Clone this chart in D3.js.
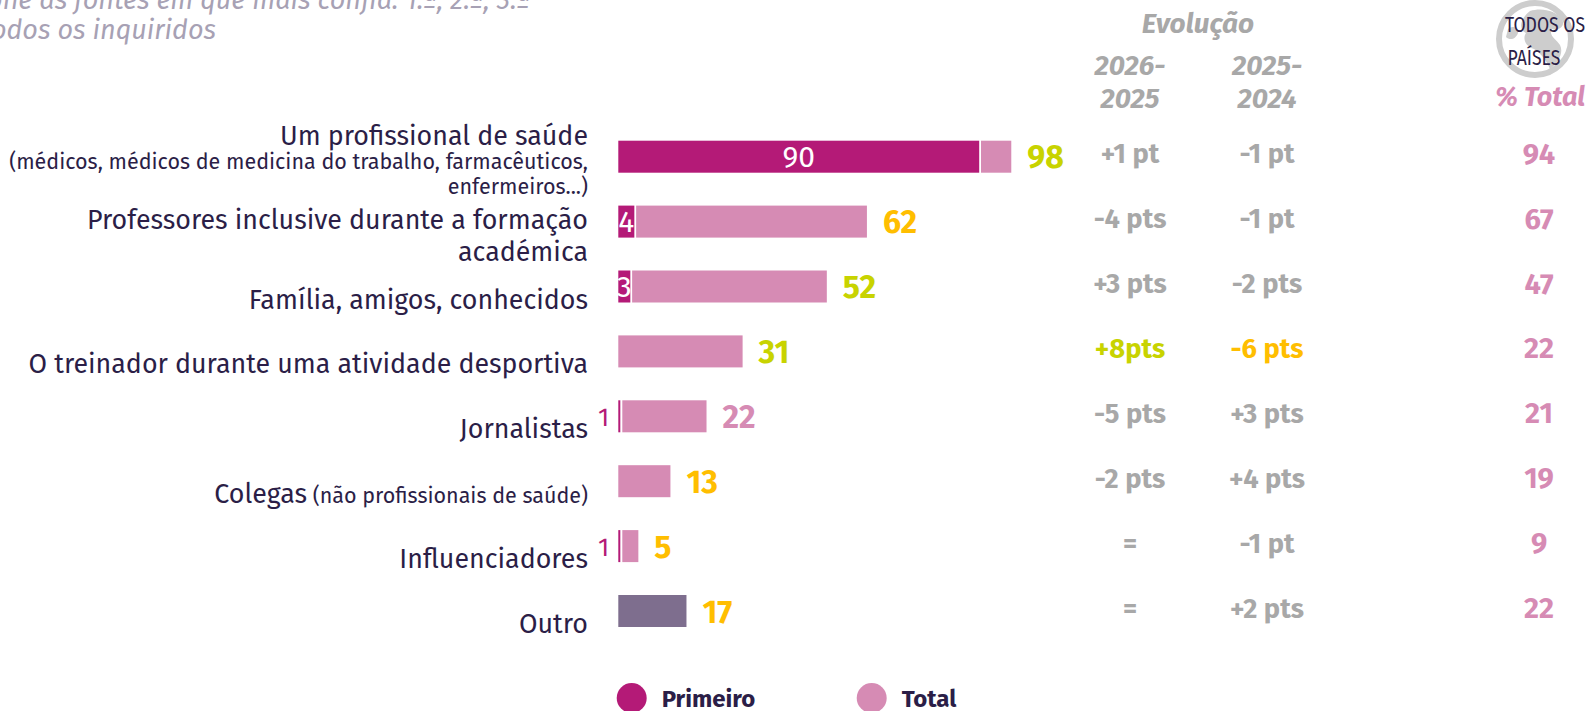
<!DOCTYPE html>
<html>
<head>
<meta charset="utf-8">
<script src="https://cdn.jsdelivr.net/npm/d3@7"></script>
<style>
  html, body { margin: 0; padding: 0; background: #fff; overflow: hidden; }
  svg { display: block; }
  text { font-family: "Fira Sans", "Open Sans", "Noto Sans", sans-serif; }
</style>
</head>
<body>
<svg id="chart" width="1591" height="711"></svg>
<script>
// ---------------- DATA ----------------
const titleLines = ["Selecione as fontes em que mais confia: 1.ª, 2.ª, 3.ª", "todos os inquiridos"];
const categories = [
  "Um profissional de saúde",
  "Professores inclusive durante a formação\nacadémica",
  "Família, amigos, conhecidos",
  "O treinador durante uma atividade desportiva",
  "Jornalistas",
  "Colegas",
  "Influenciadores",
  "Outro"
];
const categoryNotes = [
  "(médicos, médicos de medicina do trabalho, farmacêuticos,\nenfermeiros...)",
  "", "", "", "",
  "(não profissionais de saúde)",
  "", ""
];
const primeiro = [90, 4, 3, 0, 1, 0, 1, 0];
const total    = [98, 62, 52, 31, 22, 13, 5, 17];
const totalSignif = ["up", "down", "up", "up", "none", "down", "down", "down"];
const evolHeader = "Evolução";
const evolPeriods = ["2026-\n2025", "2025-\n2024"];
const evol2026 = ["+1 pt", "-4 pts", "+3 pts", "+8pts", "-5 pts", "-2 pts", "=", "="];
const evol2026Signif = ["none", "none", "none", "up", "none", "none", "none", "none"];
const evol2025 = ["-1 pt", "-1 pt", "-2 pts", "-6 pts", "+3 pts", "+4 pts", "-1 pt", "+2 pts"];
const evol2025Signif = ["none", "none", "none", "down", "none", "none", "none", "none"];
const allCountriesTitle = ["TODOS OS", "PAÍSES"];
const allCountriesHeader = "% Total";
const allCountries = [94, 67, 47, 22, 21, 19, 9, 22];
const legendItems = ["Primeiro", "Total"];
const otherCategory = "Outro";

// ---------------- STYLE ----------------
const C = {
  primeiro: "#B41A77",
  total: "#D68BB4",
  other: "#7E6E8E",
  up: "#C8D300",
  down: "#FFBE00",
  none: "#D68BB4",
  gray: "#A8A8A8",
  dark: "#2B1E47",
  title: "#A7A1B4",
  globe: "#CDCDCD"
};
const evolColor = s => s === "up" ? C.up : (s === "down" ? C.down : C.gray);
const FS = { main: 26.8, note: 21.5, value: 32, inside: 30, evol: 27.3, all: 29, head: 28 };

const svg = d3.select("#chart");

// scales
const x = d3.scaleLinear().domain([0, 100]).range([618.3, 1019.3]);
const y = d3.scaleBand().domain(d3.range(categories.length))
  .range([140.7 - 16.45, 140.7 - 16.45 + 64.9 * 8]).paddingInner(0.507).paddingOuter(0.2535);
const bh = 32;
const cy = i => y(i) + y.bandwidth() / 2;

// ---------------- TITLE ----------------
svg.append("text").attr("x", 530).attr("y", 9).attr("text-anchor", "end")
  .attr("font-size", 27).attr("font-style", "italic").attr("fill", C.title).text(titleLines[0]);
svg.append("text").attr("x", 216).attr("y", 39).attr("text-anchor", "end")
  .attr("font-size", 27).attr("font-style", "italic").attr("fill", C.title).text(titleLines[1]);

// ---------------- CATEGORY LABELS ----------------
const labelX = 588;
categories.forEach((cat, i) => {
  const c = cy(i);
  const mainLines = cat.split("\n");
  const note = categoryNotes[i];
  const g = svg.append("g");
  if (note && note.includes("\n")) {
    const t = g.append("text").attr("text-anchor", "end").attr("fill", C.dark);
    t.append("tspan").attr("x", labelX).attr("y", c - 12).attr("font-size", FS.main).text(mainLines[0]);
    note.split("\n").forEach((ln, k) => {
      t.append("tspan").attr("x", labelX).attr("y", c + 12.5 + k * 24.5).attr("font-size", FS.note).text(ln);
    });
  } else if (mainLines.length > 1) {
    const t = g.append("text").attr("text-anchor", "end").attr("fill", C.dark).attr("font-size", FS.main);
    mainLines.forEach((ln, k) => {
      t.append("tspan").attr("x", labelX).attr("y", c + 7.5 + k * 31.5).text(ln);
    });
  } else {
    const t = g.append("text").attr("text-anchor", "end").attr("fill", C.dark)
      .attr("x", labelX).attr("y", c + 22);
    t.append("tspan").attr("font-size", FS.main).text(cat);
    if (note) t.append("tspan").attr("font-size", FS.note).text(" " + note);
  }
});

// ---------------- BARS ----------------
const bars = svg.append("g");
categories.forEach((cat, i) => {
  const top = cy(i) - bh / 2;
  const isOther = cat === otherCategory;
  const p = primeiro[i];
  if (p > 0) {
    bars.append("rect").attr("x", x(0)).attr("y", top)
      .attr("width", Math.max(1.6, x(p) - x(0) - (p < 2 ? 2 : 0))).attr("height", bh)
      .attr("fill", C.primeiro);
  }
  const start = p > 0 ? x(p) + (p < 2 ? 0 : 1.8) : x(0);
  bars.append("rect").attr("x", start).attr("y", top)
    .attr("width", x(total[i]) - start).attr("height", bh)
    .attr("fill", isOther ? C.other : C.total);

  if (p > 0) {
    if (p >= 3) {
      bars.append("text").attr("x", (x(0) + x(p)) / 2).attr("y", cy(i) + 10)
        .attr("text-anchor", "middle").attr("font-size", FS.inside).attr("fill", "#fff").text(p);
    } else {
      bars.append("text").attr("x", x(0) - 9).attr("y", cy(i) + 9.5)
        .attr("text-anchor", "end").attr("font-size", 26).attr("fill", C.primeiro).text(p);
    }
  }
  bars.append("text").attr("x", x(total[i]) + 16).attr("y", cy(i) + 11.5)
    .attr("font-size", FS.value).attr("font-weight", 700)
    .attr("fill", C[totalSignif[i]]).text(total[i]);
});

// ---------------- EVOLUTION COLUMNS ----------------
const colX = [1130, 1267];
svg.append("text").attr("x", 1198).attr("y", 33).attr("text-anchor", "middle")
  .attr("font-size", FS.head).attr("font-weight", 700).attr("font-style", "italic")
  .attr("fill", C.gray).text(evolHeader);
evolPeriods.forEach((p, k) => {
  const t = svg.append("text").attr("text-anchor", "middle").attr("font-size", FS.head)
    .attr("font-weight", 700).attr("font-style", "italic").attr("fill", C.gray);
  p.split("\n").forEach((ln, j) => {
    t.append("tspan").attr("x", colX[k]).attr("y", 75 + j * 33).text(ln);
  });
});
[[evol2026, evol2026Signif], [evol2025, evol2025Signif]].forEach(([vals, sig], k) => {
  vals.forEach((v, i) => {
    svg.append("text").attr("x", colX[k]).attr("y", cy(i) + 6.5).attr("text-anchor", "middle")
      .attr("font-size", FS.evol).attr("font-weight", 700).attr("fill", evolColor(sig[i])).text(v);
  });
});

// ---------------- ALL COUNTRIES ----------------
const gx = 1535, gy = 39, gr = 36;
const globe = svg.append("g");
globe.append("circle").attr("cx", gx).attr("cy", gy).attr("r", gr)
  .attr("fill", "none").attr("stroke", C.globe).attr("stroke-width", 6);
const land = [
  "M1530,11 C1542,7 1556,11 1562,19 C1566,27 1558,31 1552,29 C1548,35 1556,39 1560,45 C1564,53 1558,63 1550,69 C1546,59 1540,53 1534,49 C1526,47 1522,39 1526,33 C1518,29 1520,19 1530,11 Z",
  "M1508,29 C1512,25 1518,27 1518,33 C1516,39 1510,41 1506,37 Z"
];
land.forEach(d => globe.append("path").attr("d", d).attr("fill", C.globe));
const actCenters = [1545, 1534];
allCountriesTitle.forEach((ln, j) => {
  svg.append("text").attr("text-anchor", "middle").attr("font-size", 22).attr("fill", C.dark)
    .attr("transform", `translate(${actCenters[j]},${31.5 + j * 33.5}) scale(0.8,1)`)
    .text(ln);
});
svg.append("text").attr("x", 1540).attr("y", 106).attr("text-anchor", "middle")
  .attr("font-size", 27).attr("font-weight", 700).attr("font-style", "italic")
  .attr("fill", C.total).text(allCountriesHeader);
allCountries.forEach((v, i) => {
  svg.append("text").attr("x", 1539).attr("y", cy(i) + 7).attr("text-anchor", "middle")
    .attr("font-size", FS.all).attr("font-weight", 700).attr("fill", C.total).text(v);
});

// ---------------- LEGEND ----------------
const legColors = [C.primeiro, C.total];
const legX = [631.7, 871.7];
legendItems.forEach((name, k) => {
  svg.append("circle").attr("cx", legX[k]).attr("cy", 698).attr("r", 15).attr("fill", legColors[k]);
  svg.append("text").attr("x", legX[k] + 30).attr("y", 707).attr("font-size", 24)
    .attr("font-weight", 700).attr("fill", C.dark).text(name);
});
</script>
</body>
</html>
